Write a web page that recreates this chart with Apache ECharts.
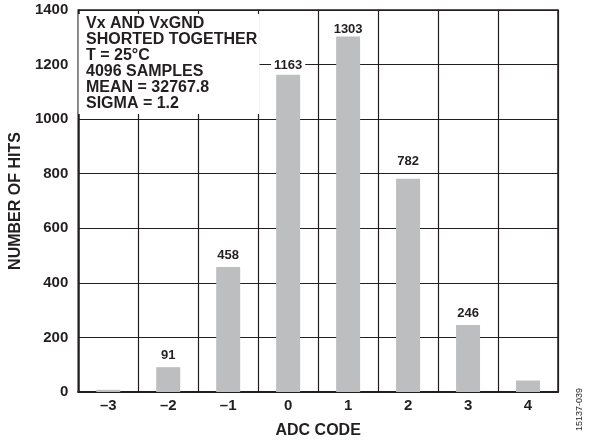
<!DOCTYPE html>
<html>
<head>
<meta charset="utf-8">
<script src="https://cdn.jsdelivr.net/npm/echarts@6/dist/echarts.min.js"></script>
<style>html,body{margin:0;padding:0;background:#fff;}#c{width:590px;height:446px;}</style>
</head>
<body>
<div id="c"></div>
<script>
const categories = ['\u20133', '\u20132', '\u20131', '0', '1', '2', '3', '4'];
const hits = [8, 91, 458, 1163, 1303, 782, 246, 42];
const showLabel = [false, true, true, true, true, true, true, false];
const yTicks = [0, 200, 400, 600, 800, 1000, 1200, 1400];
const noteLines = ['Vx AND VxGND', 'SHORTED TOGETHER', 'T = 25\u00B0C', '4096 SAMPLES', 'MEAN = 32767.8', 'SIGMA = 1.2'];

// style only: label distance per bar
const labelDist = [5, 5, 5.5, 3, 1, 10.5, 5, 5];

const FONT = '"Liberation Sans", Arial, sans-serif';
const INK = '#231f20';
const chart = echarts.init(document.getElementById('c'), null, {renderer: 'canvas'});

const gridL = 77, gridT = 10, gridR = 32, gridB = 54;

chart.setOption({
  animation: false,
  backgroundColor: '#fff',
  grid: {left: gridL, top: gridT, right: gridR, bottom: gridB, show: true, borderColor: INK, borderWidth: 1.5, backgroundColor: 'transparent'},
  xAxis: {
    type: 'category',
    data: categories,
    boundaryGap: true,
    axisLine: {lineStyle: {color: INK, width: 2}},
    axisTick: {show: false},
    splitLine: {show: true, interval: 0, lineStyle: {color: INK, width: 1.2}},
    axisLabel: {color: INK, fontFamily: FONT, fontWeight: 'bold', fontSize: 15, margin: 6},
    name: 'ADC CODE',
    nameLocation: 'middle',
    nameGap: 31,
    nameTextStyle: {color: INK, fontFamily: FONT, fontWeight: 'bold', fontSize: 16}
  },
  yAxis: {
    type: 'value',
    min: yTicks[0],
    max: yTicks[yTicks.length - 1],
    interval: 200,
    axisLine: {show: true, lineStyle: {color: INK, width: 1.5}},
    axisTick: {show: false},
    splitLine: {show: true, lineStyle: {color: INK, width: 1.2}},
    axisLabel: {color: INK, fontFamily: FONT, fontWeight: 'bold', fontSize: 15, margin: 10, formatter: v => String(v)},
    name: 'NUMBER OF HITS',
    nameLocation: 'middle',
    nameGap: 44,
    nameTextStyle: {color: INK, fontFamily: FONT, fontWeight: 'bold', fontSize: 16}
  },
  series: [{
    type: 'bar',
    barWidth: '40%',
    itemStyle: {color: '#bcbec0'},
    z: 3,
    data: hits.map((v, i) => ({
      value: v,
      label: {
        show: showLabel[i],
        position: 'top',
        distance: labelDist[i],
        color: INK,
        fontFamily: FONT,
        fontWeight: 'bold',
        fontSize: 13,
        backgroundColor: '#fff',
        padding: [0, 3]
      }
    }))
  }],
  graphic: [
    {type: 'rect', z: 10, shape: {x: gridL + 1.5, y: gridT + 4, width: 181, height: 100}, style: {fill: '#fff'}},
    {type: 'text', z: 11, left: 86, top: 16, style: {text: noteLines.join('\n'), fill: INK, font: 'bold 16px ' + FONT, lineHeight: 16}},
    {type: 'text', z: 11, x: 575, y: 431, rotation: Math.PI / 2, style: {text: '15137-039', fill: INK, font: '9px ' + FONT}}
  ]
});
</script>
</body>
</html>
